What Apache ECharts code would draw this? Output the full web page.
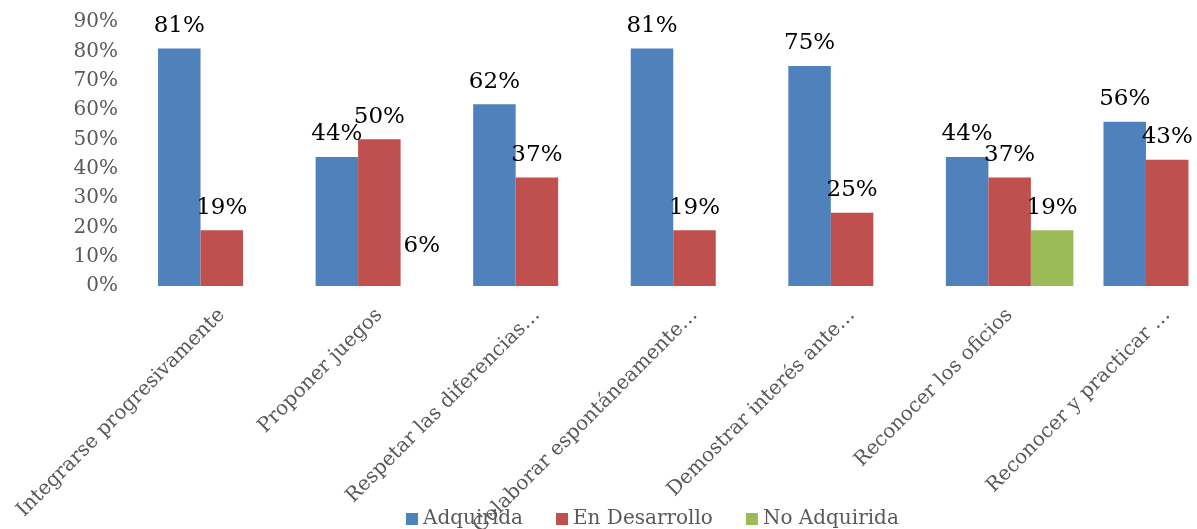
<!DOCTYPE html>
<html>
<head>
<meta charset="utf-8">
<script src="https://cdn.jsdelivr.net/npm/echarts@6/dist/echarts.min.js"></script>
<style>html,body{margin:0;padding:0;background:#fff;}#c{width:1197px;height:529px;}</style>
</head>
<body>
<div id="c"></div>
<script>
var categories = ["Integrarse progresivamente", "Proponer juegos", "Respetar las diferencias…", "Colaborar espontáneamente…", "Demostrar interés ante…", "Reconocer los oficios", "Reconocer y practicar …"];
var seriesNames = ["Adquirida", "En Desarrollo", "No Adquirida"];
var adquirida = [81, 44, 62, 81, 75, 44, 56];
var enDesarrollo = [19, 50, 37, 19, 25, 37, 43];
var noAdquirida = [null, 6, null, null, null, 19, null];
var yTicks = [0, 10, 20, 30, 40, 50, 60, 70, 80, 90];

var colors = ["#4F81BD", "#C0504D", "#9BBB59"];
var serif = "'DejaVu Serif', 'Liberation Serif', serif";

function mk(name, values, color, hideIdx) {
  return {
    name: name,
    type: 'bar',
    barWidth: 42.5,
    barGap: '0%',
    itemStyle: { color: color },
    data: values.map(function (v, i) {
      if (hideIdx && hideIdx.indexOf(i) >= 0) {
        return { value: v, itemStyle: { color: 'rgba(0,0,0,0)' } };
      }
      return v;
    }),
    label: {
      show: true,
      position: 'top',
      distance: 11,
      color: '#000',
      fontFamily: serif,
      fontSize: 23,
      formatter: function (p) { return p.value == null ? '' : p.value + '%'; }
    }
  };
}

var chart = echarts.init(document.getElementById('c'), null, { renderer: 'canvas' });
chart.setOption({
  animation: false,
  grid: { left: 143, top: 22, width: 1103, height: 264, containLabel: false, outerBoundsMode: 'none' },
  legend: {
    data: seriesNames,
    left: 401,
    top: 504,
    itemWidth: 12,
    itemHeight: 12,
    itemGap: 33,
    icon: 'rect',
    textStyle: { fontFamily: serif, fontSize: 20, color: '#595959' }
  },
  xAxis: {
    type: 'category',
    data: categories,
    axisLine: { show: false },
    axisTick: { show: false },
    axisLabel: {
      rotate: 45,
      interval: 0,
      margin: 26,
      fontFamily: serif,
      fontSize: 20,
      color: '#595959'
    }
  },
  yAxis: {
    type: 'value',
    min: yTicks[0],
    max: yTicks[yTicks.length - 1],
    interval: 10,
    splitLine: { show: false },
    axisLine: { show: false },
    axisTick: { show: false },
    axisLabel: {
      margin: 25,
      fontFamily: serif,
      fontSize: 20,
      color: '#595959',
      formatter: '{value}%'
    }
  },
  series: [
    mk(seriesNames[0], adquirida, colors[0]),
    mk(seriesNames[1], enDesarrollo, colors[1]),
    mk(seriesNames[2], noAdquirida, colors[2], [1])
  ]
});
</script>
</body>
</html>
